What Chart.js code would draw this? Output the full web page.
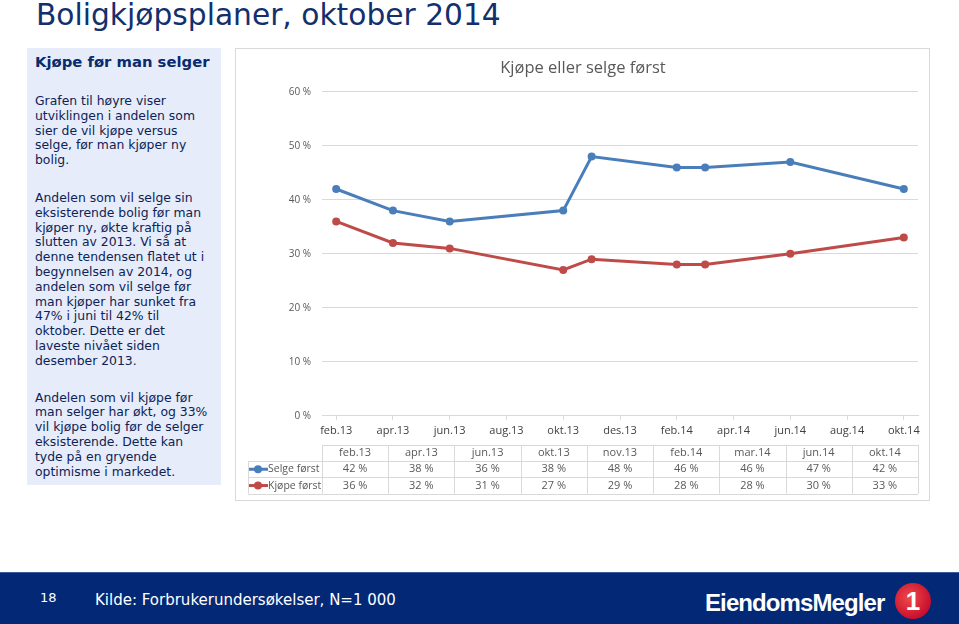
<!DOCTYPE html>
<html>
<head>
<meta charset="utf-8">
<script src="https://cdn.jsdelivr.net/npm/chart.js@4.4.0/dist/chart.umd.min.js"></script>
<style>
  html, body { margin:0; padding:0; width:959px; height:624px; overflow:hidden; background:#fff; }
  body { position:relative; font-family:"DejaVu Sans", Verdana, sans-serif; }
  #title { position:absolute; left:36px; top:-3px; font-size:29.7px; color:#13306e; white-space:nowrap; }
  #panel { position:absolute; left:27px; top:48px; width:194px; height:437px; background:#e6ecf9; color:#0d2357; box-sizing:border-box; padding:4px 0 0 8px; }
  #panel h3 { margin:0; font-size:14.8px; font-weight:bold; color:#0a2a6e; line-height:20px; }
  #panel p { margin:0; font-size:12.4px; line-height:14.8px; white-space:nowrap; }
  #card { position:absolute; left:235px; top:48px; width:695px; height:453px; border:1px solid #d9d9d9; box-sizing:border-box; background:#fff; }
  #footer { position:absolute; left:0; top:572px; width:959px; height:52px; background:#022876; border-top:1px solid #3b5a99; box-sizing:border-box; }
  #pg { position:absolute; left:40px; top:17px; font-size:13px; color:#fff; }
  #src { position:absolute; left:95px; top:18px; font-size:15px; color:#fff; white-space:nowrap; }
  #logo { position:absolute; left:705px; top:16px; font-family:"Liberation Sans", Arial, sans-serif; font-weight:bold; font-size:24px; color:#fff; letter-spacing:-0.9px; white-space:nowrap; }
  #one { position:absolute; left:895px; top:10px; width:36px; height:36px; border-radius:50%; background:radial-gradient(circle at 40% 40%, #f04a4a, #c8102e 70%); color:#fff; font-family:"Liberation Sans", Arial, sans-serif; font-weight:bold; font-size:26px; text-align:center; line-height:36px; }
</style>
</head>
<body>
<div id="title">Boligkjøpsplaner, oktober 2014</div>
<div id="panel">
  <h3>Kjøpe før man selger</h3>
  <p style="margin-top:22px">Grafen til høyre viser<br>utviklingen i andelen som<br>sier de vil kjøpe versus<br>selge, før man kjøper ny<br>bolig.</p>
  <p style="margin-top:23px">Andelen som vil selge sin<br>eksisterende bolig før man<br>kjøper ny, økte kraftig på<br>slutten av 2013. Vi så at<br>denne tendensen flatet ut i<br>begynnelsen av 2014, og<br>andelen som vil selge før<br>man kjøper har sunket fra<br>47% i juni til 42% til<br>oktober. Dette er det<br>laveste nivået siden<br>desember 2013.</p>
  <p style="margin-top:22px">Andelen som vil kjøpe før<br>man selger har økt, og 33%<br>vil kjøpe bolig før de selger<br>eksisterende. Dette kan<br>tyde på en gryende<br>optimisme i markedet.</p>
</div>
<div id="card"><canvas id="c" width="693" height="451"></canvas></div>
<div id="footer">
  <div id="pg">18</div>
  <div id="src">Kilde: Forbrukerundersøkelser, N=1 000</div>
  <div id="logo">EiendomsMegler</div>
  <div id="one">1</div>
</div>
<script>
// ---- data ----
const periods = ['feb.13','apr.13','jun.13','okt.13','nov.13','feb.14','mar.14','jun.14','okt.14'];
const selgeForst = [42, 38, 36, 38, 48, 46, 46, 47, 42];
const kjopeForst = [36, 32, 31, 27, 29, 28, 28, 30, 33];
const axisLabels = ['feb.13','apr.13','jun.13','aug.13','okt.13','des.13','feb.14','apr.14','jun.14','aug.14','okt.14'];
const yTicks = [0, 10, 20, 30, 40, 50, 60];
const seriesNames = ['Selge først', 'Kjøpe først'];

const monthNames = ['jan','feb','mar','apr','mai','jun','jul','aug','sep','okt','nov','des'];
function monthIndex(lbl) {
  const [m, y] = lbl.split('.');
  return (parseInt(y, 10) - 13) * 12 + monthNames.indexOf(m) - 1;
}
const BLUE = '#4a7ebb', RED = '#be4b48';
const FONT = '"Open Sans", "Liberation Sans", sans-serif';

const tablePlugin = {
  id: 'dataTable',
  afterDraw(chart) {
    const ctx = chart.ctx, a = chart.chartArea;
    const top = a.bottom + 29, rh = 16.3;
    const n = periods.length, cw = (a.right - a.left) / n;
    const legL = 12;
    ctx.save();
    ctx.strokeStyle = '#d9d9d9'; ctx.lineWidth = 1;
    ctx.beginPath();
    ctx.moveTo(a.left, Math.round(top) + 0.5); ctx.lineTo(a.right, Math.round(top) + 0.5);
    for (let r = 1; r <= 3; r++) {
      const y = Math.round(top + r * rh) + 0.5;
      ctx.moveTo(legL, y); ctx.lineTo(a.right, y);
    }
    for (let i = 0; i <= n; i++) {
      const x = Math.round(a.left + i * cw) + 0.5;
      ctx.moveTo(x, top); ctx.lineTo(x, top + 3 * rh);
    }
    ctx.moveTo(legL + 0.5, top + rh); ctx.lineTo(legL + 0.5, top + 3 * rh);
    ctx.stroke();
    ctx.font = '11px ' + FONT;
    ctx.fillStyle = '#595959';
    ctx.textAlign = 'center'; ctx.textBaseline = 'middle';
    const rows = [selgeForst, kjopeForst];
    periods.forEach((p, i) => {
      const cx = a.left + (i + 0.5) * cw;
      ctx.fillText(p, cx, top + rh * 0.5);
      rows.forEach((vals, r) => ctx.fillText(vals[i] + ' %', cx, top + rh * (r + 1.5)));
    });
    ctx.font = '10.5px ' + FONT;
    [BLUE, RED].forEach((col, r) => {
      const y = top + rh * (r + 1.5);
      ctx.strokeStyle = col; ctx.lineWidth = 3;
      ctx.beginPath(); ctx.moveTo(legL + 1, y); ctx.lineTo(legL + 20, y); ctx.stroke();
      ctx.fillStyle = col;
      ctx.beginPath(); ctx.arc(legL + 10, y, 4, 0, Math.PI * 2); ctx.fill();
      ctx.fillStyle = '#595959'; ctx.textAlign = 'left';
      ctx.fillText(seriesNames[r], legL + 20, y);
    });
    ctx.restore();
  }
};

new Chart(document.getElementById('c'), {
  type: 'line',
  data: {
    datasets: [
      { label: seriesNames[0], data: periods.map((p, i) => ({ x: monthIndex(p), y: selgeForst[i] })),
        borderColor: BLUE, backgroundColor: BLUE, borderWidth: 3, pointRadius: 4, pointBorderWidth: 0, pointBackgroundColor: BLUE, tension: 0 },
      { label: seriesNames[1], data: periods.map((p, i) => ({ x: monthIndex(p), y: kjopeForst[i] })),
        borderColor: RED, backgroundColor: RED, borderWidth: 3, pointRadius: 4, pointBorderWidth: 0, pointBackgroundColor: RED, tension: 0 }
    ]
  },
  options: {
    responsive: false,
    animation: false,
    layout: { padding: { left: 12, right: 11, top: 9, bottom: 59 } },
    plugins: {
      legend: { display: false },
      tooltip: { enabled: false },
      title: { display: true, text: 'Kjøpe eller selge først', color: '#595959',
               font: { family: FONT, size: 16.5, weight: 'normal' },
               padding: { top: 0, bottom: 14 } }
    },
    scales: {
      x: {
        type: 'linear', min: -0.5, max: 20.5,
        afterBuildTicks: (s) => { s.ticks = axisLabels.map(l => ({ value: monthIndex(l) })); },
        ticks: { callback: (v) => axisLabels.find(l => monthIndex(l) === v) || '', color: '#404040',
                 font: { family: FONT, size: 11 }, maxRotation: 0, autoSkip: false, padding: 4 },
        grid: { display: true, drawOnChartArea: false, drawTicks: true, tickLength: 4, color: '#d9d9d9' },
        border: { display: true, color: '#d9d9d9' }
      },
      y: {
        min: 0, max: 60,
        afterBuildTicks: (s) => { s.ticks = yTicks.map(v => ({ value: v })); },
        afterFit: (s) => { s.width = 74; },
        ticks: { callback: (v) => v + ' %', color: '#595959', padding: 11,
                 font: { family: FONT, size: 10 } },
        grid: { color: '#d9d9d9', drawTicks: false },
        border: { display: false }
      }
    }
  },
  plugins: [tablePlugin]
});
</script>
</body>
</html>
